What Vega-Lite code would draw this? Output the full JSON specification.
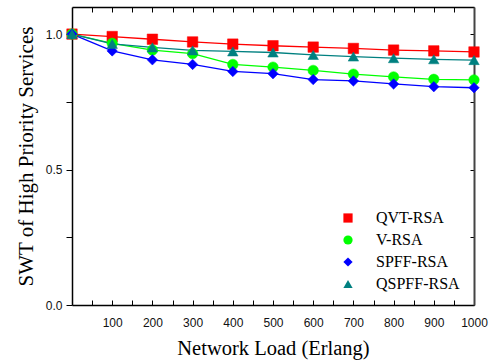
{
  "$schema": "https://vega.github.io/schema/vega-lite/v6.json",
  "width": 402,
  "height": 298,
  "autosize": "none",
  "padding": {"left": 72, "top": 7, "right": 20, "bottom": 57},
  "background": "white",
  "config": {
    "view": {"stroke": null},
    "axis": {
      "domainColor": "black",
      "domainWidth": 1.5,
      "tickColor": "black",
      "tickWidth": 1,
      "grid": false,
      "labelFont": "Liberation Sans",
      "labelFontSize": 12,
      "labelColor": "#111",
      "titleFont": "Liberation Serif",
      "titleFontWeight": "normal",
      "titleColor": "black"
    },
    "legend": {
      "title": null,
      "orient": "none",
      "legendX": 268,
      "legendY": 203,
      "padding": 0,
      "symbolSize": 85,
      "labelOffset": 20,
      "rowPadding": 6,
      "labelFont": "Liberation Serif",
      "labelFontSize": 16,
      "labelColor": "black"
    }
  },
  "data": {
    "values": [
      {"load": 0, "alg": "QVT-RSA", "swt": 1.0},
      {"load": 100, "alg": "QVT-RSA", "swt": 0.991},
      {"load": 200, "alg": "QVT-RSA", "swt": 0.981},
      {"load": 300, "alg": "QVT-RSA", "swt": 0.971},
      {"load": 400, "alg": "QVT-RSA", "swt": 0.963},
      {"load": 500, "alg": "QVT-RSA", "swt": 0.957},
      {"load": 600, "alg": "QVT-RSA", "swt": 0.952},
      {"load": 700, "alg": "QVT-RSA", "swt": 0.947},
      {"load": 800, "alg": "QVT-RSA", "swt": 0.941},
      {"load": 900, "alg": "QVT-RSA", "swt": 0.938},
      {"load": 1000, "alg": "QVT-RSA", "swt": 0.934},
      {"load": 0, "alg": "V-RSA", "swt": 1.0},
      {"load": 100, "alg": "V-RSA", "swt": 0.966},
      {"load": 200, "alg": "V-RSA", "swt": 0.941},
      {"load": 300, "alg": "V-RSA", "swt": 0.928},
      {"load": 400, "alg": "V-RSA", "swt": 0.888},
      {"load": 500, "alg": "V-RSA", "swt": 0.878},
      {"load": 600, "alg": "V-RSA", "swt": 0.866},
      {"load": 700, "alg": "V-RSA", "swt": 0.852},
      {"load": 800, "alg": "V-RSA", "swt": 0.842},
      {"load": 900, "alg": "V-RSA", "swt": 0.833},
      {"load": 1000, "alg": "V-RSA", "swt": 0.831},
      {"load": 0, "alg": "SPFF-RSA", "swt": 1.0},
      {"load": 100, "alg": "SPFF-RSA", "swt": 0.938},
      {"load": 200, "alg": "SPFF-RSA", "swt": 0.905},
      {"load": 300, "alg": "SPFF-RSA", "swt": 0.888},
      {"load": 400, "alg": "SPFF-RSA", "swt": 0.862},
      {"load": 500, "alg": "SPFF-RSA", "swt": 0.854},
      {"load": 600, "alg": "SPFF-RSA", "swt": 0.832},
      {"load": 700, "alg": "SPFF-RSA", "swt": 0.827},
      {"load": 800, "alg": "SPFF-RSA", "swt": 0.816},
      {"load": 900, "alg": "SPFF-RSA", "swt": 0.806},
      {"load": 1000, "alg": "SPFF-RSA", "swt": 0.802},
      {"load": 0, "alg": "QSPFF-RSA", "swt": 1.0},
      {"load": 100, "alg": "QSPFF-RSA", "swt": 0.964},
      {"load": 200, "alg": "QSPFF-RSA", "swt": 0.951},
      {"load": 300, "alg": "QSPFF-RSA", "swt": 0.940},
      {"load": 400, "alg": "QSPFF-RSA", "swt": 0.936},
      {"load": 500, "alg": "QSPFF-RSA", "swt": 0.932},
      {"load": 600, "alg": "QSPFF-RSA", "swt": 0.923},
      {"load": 700, "alg": "QSPFF-RSA", "swt": 0.917},
      {"load": 800, "alg": "QSPFF-RSA", "swt": 0.911},
      {"load": 900, "alg": "QSPFF-RSA", "swt": 0.907},
      {"load": 1000, "alg": "QSPFF-RSA", "swt": 0.904}
    ]
  },
  "encoding": {
    "stroke": {
      "field": "alg",
      "type": "nominal",
      "scale": {
        "domain": ["QVT-RSA", "V-RSA", "SPFF-RSA", "QSPFF-RSA"],
        "range": ["#ff0000", "#00ff00", "#0000ff", "#008080"]
      },
      "legend": {
        "encode": {
          "symbols": {
            "update": {
              "shape": {"signal": "datum.value === 'QVT-RSA' ? 'M-4,-0.14L4,-0.14L4,0.14L-4,0.14ZM-1.1,-1.1L1.1,-1.1L1.1,1.1L-1.1,1.1Z' : datum.value === 'V-RSA' ? 'M-4,-0.14L4,-0.14L4,0.14L-4,0.14ZM-1.13,0A1.13,1.13 0 1 0 1.13,0A1.13,1.13 0 1 0 -1.13,0Z' : datum.value === 'SPFF-RSA' ? 'M-4,-0.14L4,-0.14L4,0.14L-4,0.14ZM0,-1.4L1.2,0L0,1.4L-1.2,0Z' : 'M-4,-0.14L4,-0.14L4,0.14L-4,0.14ZM0,-1.3L1.3,1L-1.3,1Z'"},
              "fill": {"scale": "stroke", "field": "value"},
              "strokeWidth": {"value": 0},
              "opacity": {"value": 1}
            }
          }
        }
      }
    }
  },
  "layer": [
    {
      "mark": {"type": "line", "strokeWidth": 1.3},
      "encoding": {
        "x": {
          "field": "load",
          "type": "quantitative",
          "scale": {"domain": [0, 1000], "nice": false},
          "axis": {
            "orient": "bottom",
            "title": "Network Load (Erlang)",
            "titleFontSize": 20.5,
            "titlePadding": 10,
            "values": [50, 100, 150, 200, 250, 300, 350, 400, 450, 500, 550, 600, 650, 700, 750, 800, 850, 900, 950, 1000],
            "format": "d",
            "labelExpr": "datum.value % 100 === 0 ? datum.label : ''",
            "tickSize": -5,
            "labelPadding": 17,
            "labelFlush": false,
            "encode": {"ticks": {"update": {"y2": {"signal": "datum.value % 100 === 0 ? -5 : -3"}}}}
          }
        },
        "y": {
          "field": "swt",
          "type": "quantitative",
          "scale": {"domain": [0, 1.1], "nice": false, "zero": false},
          "axis": {
            "orient": "left",
            "title": "SWT of High Priority Services",
            "titleFontSize": 21,
            "titlePadding": 9,
            "values": [0, 0.25, 0.5, 0.75, 1.0],
            "format": ".1f",
            "labelExpr": "datum.value === 0.25 || datum.value === 0.75 ? '' : datum.label",
            "tickSize": 6,
            "labelPadding": 4
          }
        }
      }
    },
    {
      "transform": [{"calculate": "datum.alg", "as": "series"}],
      "mark": {"type": "point", "filled": true, "opacity": 1, "size": 110, "strokeWidth": 0.5},
      "encoding": {
        "x": {
          "field": "load",
          "type": "quantitative",
          "scale": {"domain": [0, 1000], "nice": false},
          "axis": {
            "orient": "top",
            "title": null,
            "labels": false,
            "values": [50, 100, 150, 200, 250, 300, 350, 400, 450, 500, 550, 600, 650, 700, 750, 800, 850, 900, 950, 1000],
            "tickSize": -5,
            "encode": {"ticks": {"update": {"y2": {"signal": "datum.value % 100 === 0 ? 5 : 3"}}}}
          }
        },
        "y": {
          "field": "swt",
          "type": "quantitative",
          "scale": {"domain": [0, 1.1], "nice": false, "zero": false},
          "axis": {
            "orient": "right",
            "title": null,
            "labels": false,
            "values": [0, 0.25, 0.5, 0.75, 1.0],
            "tickSize": -4,
            "domainColor": "#444",
            "domainWidth": 2
          }
        },
        "fill": {
          "field": "series",
          "type": "nominal",
          "scale": {
            "domain": ["QVT-RSA", "V-RSA", "SPFF-RSA", "QSPFF-RSA"],
            "range": ["#ff0000", "#00ff00", "#0000ff", "#008080"]
          },
          "legend": null
        },
        "shape": {
          "field": "series",
          "type": "nominal",
          "scale": {
            "domain": ["QVT-RSA", "V-RSA", "SPFF-RSA", "QSPFF-RSA"],
            "range": ["square", "circle", "diamond", "triangle-up"]
          },
          "legend": null
        }
      }
    }
  ],
  "resolve": {"axis": {"x": "independent", "y": "independent"}}
}
